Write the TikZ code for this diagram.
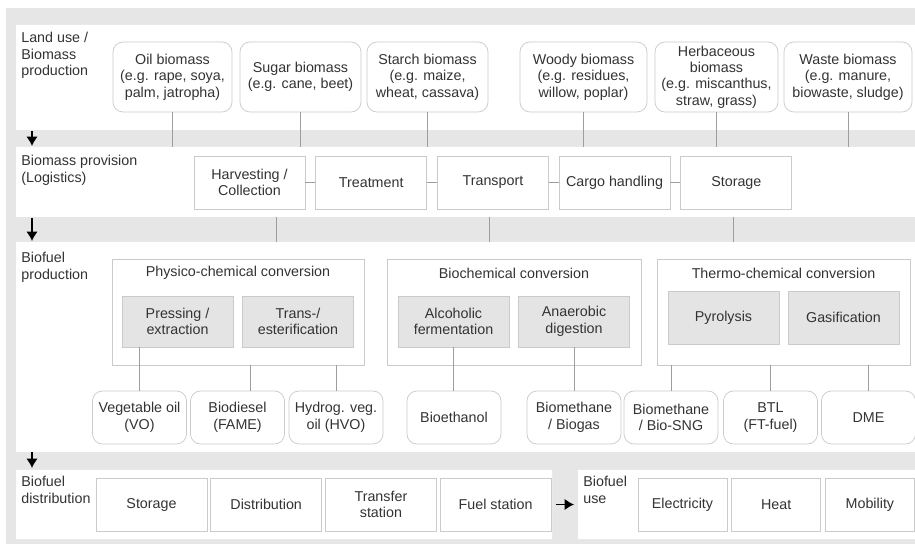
\documentclass[tikz,border=0pt]{standalone}
\usepackage{fontspec}
\setmainfont{Liberation Sans}
\usepackage{tikz}
\usetikzlibrary{arrows,arrows.meta,positioning}
\definecolor{bandgray}{HTML}{E6E6E6}
\definecolor{boxline}{HTML}{CACACA}
\definecolor{procgray}{HTML}{E4E4E4}
\definecolor{linkgray}{HTML}{9E9E9E}
\definecolor{txtgray}{HTML}{333333}

\begin{document}
\begin{tikzpicture}[x=0.03cm,y=-0.03cm,>={Latex[length=8pt,width=10pt]},semithick,font=\fontsize{12.2}{14}\selectfont,text=txtgray]
  \tikzstyle{landbox}=[draw=boxline,fill=white,rounded corners=0.3cm,minimum height=2.1cm,align=center,inner sep=1pt]
  \tikzstyle{stepbox}=[draw=boxline,fill=white,minimum width=3.33cm,minimum height=1.59cm,align=center]
  \tikzstyle{groupbox}=[draw=boxline,fill=white,minimum width=7.59cm,minimum height=3.18cm]
  \tikzstyle{procbox}=[draw=boxline,fill=procgray,minimum width=3.33cm,minimum height=1.53cm,align=center]
  \tikzstyle{fuelbox}=[draw=boxline,fill=white,rounded corners=0.3cm,minimum width=2.82cm,minimum height=1.59cm,align=center]
  \tikzstyle{heading}=[anchor=north west,inner sep=0pt,align=left]
  \tikzstyle{link}=[draw=linkgray]
  \tikzstyle{flow}=[->,black,line width=1.7pt]
\useasboundingbox (0,0) rectangle (915,544);
% bands and sections
\fill[bandgray] (6,8) rectangle (915,544);
\fill[white] (16,25) rectangle (915,130)
  (16,147) rectangle (915,217)
  (16,242) rectangle (915,452)
  (16,470) rectangle (552,539)
  (578,470) rectangle (915,539);
\coordinate (provtop) at (0,147);
\coordinate (provbot) at (0,217);
\coordinate (prodtop) at (0,242);
\coordinate (usein) at (574,504.5);
\foreach \ya/\yb in {131/146,218/241,452/468}
  \draw[flow] (32,\ya) -- (32,\yb);

% land use
\node[heading] (landT) at (21,32) {Land use /\\Biomass\\production};
\node[landbox,minimum width=3.57cm] (oil) at (172.5,77) {Oil biomass\\(e.g. rape, soya,\\palm, jatropha)};
\node[landbox,minimum width=3.63cm] (sugar) at (300.5,77) {Sugar biomass\\(e.g. cane, beet)};
\node[landbox,minimum width=3.63cm] (starch) at (427.5,77) {Starch biomass\\(e.g. maize,\\wheat, cassava)};
\node[landbox,minimum width=3.81cm] (woody) at (583.5,77) {Woody biomass\\(e.g. residues,\\willow, poplar)};
\node[landbox,minimum width=3.69cm] (herb) at (716.5,77) {Herbaceous\\biomass\\(e.g. miscanthus,\\straw, grass)};
\node[landbox,minimum width=3.84cm] (waste) at (848,77) {Waste biomass\\(e.g. manure,\\biowaste, sludge)};
\foreach \n in {oil,sugar,starch,woody,herb,waste}
  \draw[link] (\n.south) -- (\n.south |- provtop);

% biomass provision
\node[heading] (provT) at (21,155) {Biomass provision\\(Logistics)};
\node[stepbox] (harv) at (249.5,182.5) {Harvesting /\\Collection};
\node[stepbox] (treat) [right=0.3cm of harv] {Treatment};
\node[stepbox] (transp) [right=0.3cm of treat] {Transport};
\node[stepbox] (cargo) [right=0.3cm of transp] {Cargo handling};
\node[stepbox] (store) [right=0.3cm of cargo] {Storage};
\path
(harv) edge[link] (treat)
(treat) edge[link] (transp)
(transp) edge[link] (cargo)
(cargo) edge[link] (store);
\foreach \x in {276,489,733}
  \draw[link] (\x,0 |- provbot) -- (\x,0 |- prodtop);

% biofuel production
\node[heading] (prodT) at (21,252) {Biofuel\\production};
\node[groupbox,minimum width=7.56cm] (phys) at (238,312) {};
\node[groupbox,minimum width=7.62cm] (bioch) at (514,312) {};
\node[groupbox] (thermo) at (783.5,312) {};
\node at (238,273) {Physico-chemical conversion};
\node at (514,273) {Biochemical conversion};
\node at (783.5,273) {Thermo-chemical conversion};
\node[procbox] (press) at (177.5,321.5) {Pressing /\\extraction};
\node[procbox] (trans) at (298,321.5) {Trans-/\\esterification};
\node[procbox] (alc) at (453.5,321.5) {Alcoholic\\fermentation};
\node[procbox] (anaer) at (574,321.5) {Anaerobic\\digestion};
\node[procbox,minimum height=1.59cm] (pyro) at (723.5,317.5) {Pyrolysis};
\node[procbox,minimum height=1.59cm] (gasif) at (843.5,317.5) {Gasification};
\node[fuelbox] (vo) at (139.5,417.5) {Vegetable oil\\(VO)};
\node[fuelbox] (bd) at (237.5,417.5) {Biodiesel\\(FAME)};
\node[fuelbox] (hvo) at (336,417.5) {Hydrog. veg.\\oil (HVO)};
\node[fuelbox] (bioeth) at (454,417.5) {Bioethanol};
\node[fuelbox] (biogas) at (574,417.5) {Biomethane\\/ Biogas};
\node[fuelbox] (sng) at (671,417.5) {Biomethane\\/ Bio-SNG};
\node[fuelbox] (btl) at (770.5,417.5) {BTL\\(FT-fuel)};
\node[fuelbox] (dme) at (868.5,417.5) {DME};
\draw[link] (vo.north) -- (vo.north |- press.south);
\draw[link] (250,0 |- phys.south) -- (250,0 |- bd.north);
\draw[link] (hvo.north) -- (hvo.north |- phys.south);
\draw[link] (alc.south) -- (alc.south |- bioeth.north);
\draw[link] (anaer.south) -- (anaer.south |- biogas.north);
\draw[link] (sng.north) -- (sng.north |- thermo.south);
\draw[link] (btl.north) -- (btl.north |- thermo.south);
\draw[link] (dme.north) -- (dme.north |- thermo.south);

% distribution and use
\node[heading] (distT) at (21,476) {Biofuel\\distribution};
\node[stepbox] (dstore) at (151.5,504.5) {Storage};
\node[stepbox] (distr) [right=0.09cm of dstore] {Distribution};
\node[stepbox] (transf) [right=0.09cm of distr] {Transfer\\station};
\node[stepbox] (fuel) [right=0.09cm of transf] {Fuel station};
\draw[flow] ([xshift=0.15cm]fuel.east) -- (usein);
\node[heading] (useT) at (583,476) {Biofuel\\use};
\node[stepbox,minimum width=2.67cm] (elec) at (682.5,504.5) {Electricity};
\node[stepbox,minimum width=2.67cm] (heat) [right=0.12cm of elec] {Heat};
\node[stepbox,minimum width=2.67cm] (mob) [right=0.12cm of heat] {Mobility};
\end{tikzpicture}
\end{document}
